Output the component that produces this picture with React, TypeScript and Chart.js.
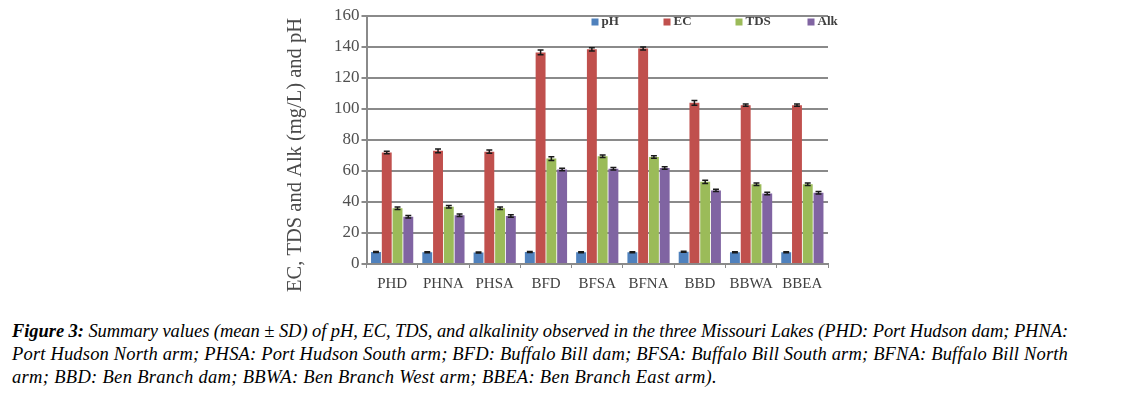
import React, { useEffect, useRef } from "react";
import { Chart, registerables } from "chart.js";

Chart.register(...registerables);

const categories = ["PHD", "PHNA", "PHSA", "BFD", "BFSA", "BFNA", "BBD", "BBWA", "BBEA"];
const seriesNames = ["pH", "EC", "TDS", "Alk"];
const pHValues = [7.8, 7.6, 7.4, 7.8, 7.6, 7.6, 7.9, 7.6, 7.6];
const ecValues = [72, 73, 72.5, 136.5, 138.5, 139, 104, 102.5, 102.5];
const tdsValues = [36, 37, 36, 68, 69.5, 69, 53, 51.5, 51.5];
const alkValues = [30.5, 31.5, 31, 61, 61.5, 62, 47.5, 45.5, 46];
const pHSD = [0.3, 0.3, 0.3, 0.3, 0.3, 0.3, 0.3, 0.3, 0.3];
const ecSD = [0.8, 1.2, 1, 1.5, 1, 1, 1.5, 0.8, 0.8];
const tdsSD = [0.8, 0.8, 0.8, 1.2, 0.8, 0.8, 1, 0.8, 0.8];
const alkSD = [0.8, 0.8, 0.8, 0.8, 0.8, 0.8, 0.8, 0.8, 0.8];
const yTicks = [0, 20, 40, 60, 80, 100, 120, 140, 160];
const colors = ["#4F81BD", "#C0504D", "#9BBB59", "#8064A2"];
const yTitle = "EC, TDS and Alk (mg/L) and pH";

const captionLabel = "Figure 3:";
const captionLines = [
  " Summary values (mean ± SD) of pH, EC, TDS, and alkalinity observed in the three Missouri Lakes (PHD: Port Hudson dam; PHNA:",
  "Port Hudson North arm; PHSA: Port Hudson South arm; BFD: Buffalo Bill dam; BFSA: Buffalo Bill South arm; BFNA: Buffalo Bill North",
  "arm; BBD: Ben Branch dam; BBWA: Ben Branch West arm; BBEA: Ben Branch East arm).",
];
const captionWidths = [1056, 1056, 705];

const SERIF = "'Liberation Serif', serif";

const errorBarPlugin = {
  id: "errorBars",
  afterDatasetsDraw(chart: any) {
    const ctx = chart.ctx;
    const yScale = chart.scales.y;
    chart.data.datasets.forEach((ds: any, di: number) => {
      const meta = chart.getDatasetMeta(di);
      meta.data.forEach((bar: any, i: number) => {
        const v = ds.data[i];
        const sd = ds.sd[i];
        const yTop = yScale.getPixelForValue(v + sd);
        const yBot = yScale.getPixelForValue(v - sd);
        const half = bar.width * 0.3;
        ctx.save();
        ctx.strokeStyle = "#1a1a1a";
        ctx.lineWidth = 1.5;
        ctx.beginPath();
        ctx.moveTo(bar.x, yTop);
        ctx.lineTo(bar.x, yBot);
        ctx.moveTo(bar.x - half, yTop);
        ctx.lineTo(bar.x + half, yTop);
        ctx.moveTo(bar.x - half, yBot);
        ctx.lineTo(bar.x + half, yBot);
        ctx.stroke();
        ctx.restore();
      });
    });
  },
};

const legendPlugin = {
  id: "customLegend",
  afterDraw(chart: any) {
    const ctx = chart.ctx;
    const area = chart.chartArea;
    const startX = area.left + 225;
    const step = 72;
    const y = area.top + 6;
    ctx.save();
    ctx.font = "bold 13px " + SERIF;
    ctx.textBaseline = "middle";
    chart.data.datasets.forEach((ds: any, i: number) => {
      const x = startX + i * step;
      ctx.fillStyle = ds.backgroundColor;
      ctx.fillRect(x, y - 3.5, 7, 7);
      ctx.fillStyle = "#404040";
      ctx.fillText(ds.label, x + 10, y);
    });
    ctx.restore();
  },
};

const yTitlePlugin = {
  id: "yTitle",
  afterDraw(chart: any) {
    const ctx = chart.ctx;
    const area = chart.chartArea;
    ctx.save();
    ctx.translate(area.left - 71, (area.top + area.bottom) / 2 + 15);
    ctx.rotate(-Math.PI / 2);
    ctx.font = "20.5px " + SERIF;
    ctx.fillStyle = "#4a4a4a";
    ctx.textAlign = "center";
    ctx.textBaseline = "middle";
    ctx.fillText(yTitle, 0, 0);
    ctx.restore();
  },
};

function BarChart() {
  const ref = useRef<HTMLCanvasElement | null>(null);
  useEffect(() => {
    if (!ref.current) return;
    const values = [pHValues, ecValues, tdsValues, alkValues];
    const sds = [pHSD, ecSD, tdsSD, alkSD];
    const chart = new Chart(ref.current, {
      type: "bar",
      data: {
        labels: categories,
        datasets: seriesNames.map((name, i) => ({
          label: name,
          data: values[i],
          sd: sds[i],
          backgroundColor: colors[i],
          borderWidth: 0,
          categoryPercentage: 0.84,
          barPercentage: 0.92,
        })) as any,
      },
      options: {
        animation: false,
        responsive: false,
        maintainAspectRatio: false,
        layout: { padding: { left: 57, right: 27, top: 16, bottom: 0 } },
        plugins: {
          legend: { display: false },
          tooltip: { enabled: false },
        },
        scales: {
          x: {
            grid: {
              display: true,
              drawOnChartArea: false,
              drawTicks: true,
              tickLength: 4,
              color: "#8a8a8a",
            },
            border: { color: "#8a8a8a", width: 2 },
            ticks: {
              color: "#404040",
              font: { family: SERIF, size: 15 },
              padding: 7,
              maxRotation: 0,
            },
          },
          y: {
            min: 0,
            max: 160,
            afterBuildTicks(axis: any) {
              axis.ticks = yTicks.map((v) => ({ value: v }));
            },
            grid: { color: "#8a8a8a", lineWidth: 2, drawTicks: true, tickLength: 5 },
            border: { color: "#8a8a8a", width: 2 },
            ticks: {
              color: "#505050",
              font: { family: SERIF, size: 17 },
              padding: 2,
            },
          },
        },
      },
      plugins: [errorBarPlugin, legendPlugin, yTitlePlugin],
    } as any);
    return () => chart.destroy();
  }, []);
  return (
    <canvas
      ref={ref}
      width={580}
      height={300}
      style={{ position: "absolute", left: 275, top: 0, width: 580, height: 300 }}
    />
  );
}

function Caption() {
  const lineRefs = useRef<(HTMLSpanElement | null)[]>([]);
  useEffect(() => {
    lineRefs.current.forEach((el, i) => {
      if (!el) return;
      el.style.letterSpacing = "0px";
      const natural = el.getBoundingClientRect().width;
      const chars = (el.textContent || "").length;
      const ls = (captionWidths[i] - natural) / Math.max(chars, 1);
      el.style.letterSpacing = ls + "px";
    });
  }, []);
  return (
    <div
      style={{
        position: "absolute",
        left: 12,
        top: 320,
        fontFamily: SERIF,
        fontStyle: "italic",
        fontSize: 18.5,
        lineHeight: "23px",
        color: "#000",
      }}
    >
      {captionLines.map((line, i) => (
        <div key={i} style={{ whiteSpace: "nowrap", height: 23 }}>
          <span
            ref={(el) => {
              lineRefs.current[i] = el;
            }}
            style={{ display: "inline-block" }}
          >
            {i === 0 ? <b>{captionLabel}</b> : null}
            {line}
          </span>
        </div>
      ))}
    </div>
  );
}

export default function App() {
  useEffect(() => {
    document.body.style.margin = "0";
  }, []);
  return (
    <div style={{ position: "relative", width: 1139, height: 399, background: "#fff" }}>
      <BarChart />
      <Caption />
    </div>
  );
}
